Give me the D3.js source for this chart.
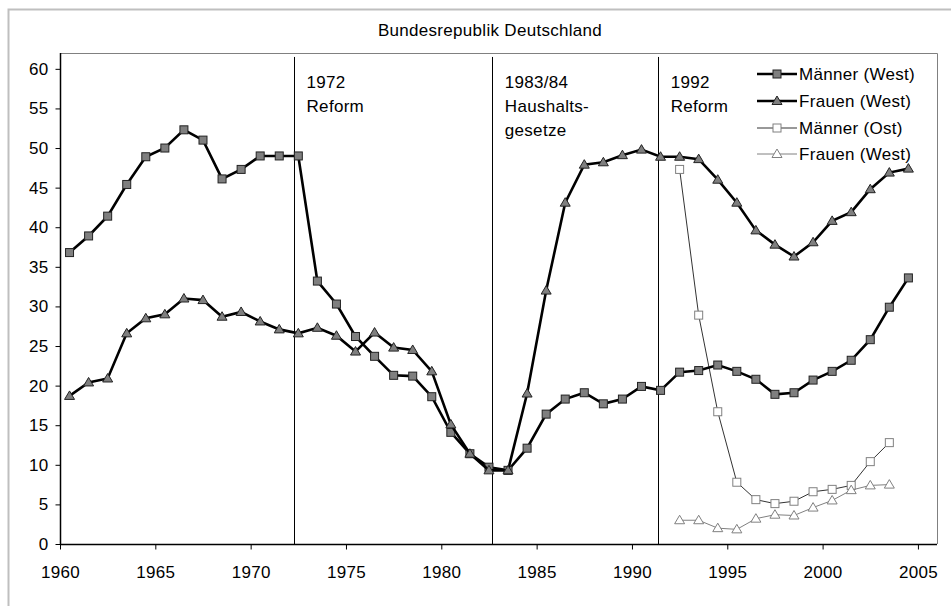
<!DOCTYPE html>
<html><head><meta charset="utf-8">
<script src="https://cdn.jsdelivr.net/npm/d3@7"></script>
<style>
body{margin:0;background:#fff;}
text{font-family:"Liberation Sans",Arial,sans-serif;fill:#000;letter-spacing:0.3px;}
</style></head>
<body><svg id="c" width="951" height="610"></svg>
<script>
const title = "Bundesrepublik Deutschland";
const yearsWest = d3.range(1960, 2005);
const maennerWest = [36.8,38.9,41.4,45.4,48.9,50.0,52.3,51.0,46.1,47.3,
  49.0,49.0,49.0,33.2,30.3,26.2,23.7,21.3,21.2,18.6,
  14.1,11.4,9.7,9.3,12.1,16.4,18.3,19.1,17.7,18.3,
  19.9,19.4,21.7,21.9,22.6,21.8,20.8,18.9,19.1,20.7,
  21.8,23.2,25.8,29.9,33.6];
const frauenWest = [18.7,20.4,20.9,26.6,28.5,29.0,31.0,30.8,28.7,29.3,
  28.1,27.1,26.6,27.3,26.3,24.3,26.7,24.8,24.5,21.8,
  15.1,11.4,9.3,9.3,19.0,32.0,43.1,47.9,48.2,49.1,
  49.8,48.9,48.9,48.6,46.0,43.1,39.6,37.8,36.3,38.1,
  40.8,41.9,44.8,46.9,47.4];
const yearsOst = d3.range(1992, 2004);
const maennerOst = [47.3,28.9,16.7,7.8,5.6,5.1,5.4,6.6,6.9,7.4,10.4,12.8];
const frauenOst = [3.0,3.0,2.0,1.85,3.2,3.7,3.6,4.6,5.5,6.8,7.4,7.5];
const seriesNames = ["Männer (West)","Frauen (West)","Männer (Ost)","Frauen (West)"];
const xTicks = d3.range(1960, 2006, 5);
const yTicks = d3.range(0, 61, 5);
const reforms = [
  {x:1972.25, lines:["1972","Reform"]},
  {x:1982.65, lines:["1983/84","Haushalts-","gesetze"]},
  {x:1991.35, lines:["1992","Reform"]}
];
const reformLineTop = 61.5;

const svg = d3.select("#c");
const L=60, T=53, R=937, B=544;
const x = d3.scaleLinear().domain([1960,2006]).range([L,R]);
const y = d3.scaleLinear().domain([0,62]).range([B,T]);
const FS = 17;

// outer frame
svg.append("path").attr("d","M8.5,606 L8.5,9.5 L951,9.5").attr("fill","none")
  .attr("stroke","#bfbfbf").attr("stroke-width",2);

svg.append("text").attr("x",490).attr("y",36).attr("text-anchor","middle")
  .style("font-size",FS+"px").text(title);

// plot border top/right
svg.append("path").attr("d",`M${L},${T+0.5} H${R+0.5} V${B}`).attr("fill","none")
  .attr("stroke","#808080").attr("stroke-width",1);

// axes
const yAxis = d3.axisLeft(y).tickValues(yTicks).tickSize(5).tickPadding(7).tickFormat(d3.format("d"));
const gy = svg.append("g").attr("transform",`translate(${L+0.5},0)`).call(yAxis);
const xAxis = d3.axisBottom(x).tickValues(xTicks).tickSize(5).tickPadding(16).tickFormat(d3.format("d"));
const gx = svg.append("g").attr("transform",`translate(0,${B+0.5})`).call(xAxis);
[gx,gy].forEach(g=>{
  g.selectAll("text").style("font-size",FS+"px").style("font-family","'Liberation Sans',Arial,sans-serif")
    .style("letter-spacing","0.3px").attr("fill","#000");
  g.select(".domain").attr("stroke","#000").attr("stroke-width",1.5);
  g.selectAll(".tick line").attr("stroke","#000");
});
gy.select(".domain").attr("d",`M0,${T} V${B}`);
gx.select(".domain").attr("d",`M${L},0 H${R}`);

// reform lines
reforms.forEach(r=>{
  svg.append("line").attr("x1",Math.round(x(r.x))+0.5).attr("x2",Math.round(x(r.x))+0.5)
    .attr("y1",y(reformLineTop)).attr("y2",B).attr("stroke","#000").attr("stroke-width",1);
  r.lines.forEach((t,i)=>{
    svg.append("text").attr("x",x(r.x)+13).attr("y",88+i*24).style("font-size",FS+"px").text(t);
  });
});

const line = d3.line().x(d=>x(d[0]+0.5)).y(d=>y(d[1]));
const mw = yearsWest.map((yr,i)=>[yr,maennerWest[i]]);
const fw = yearsWest.map((yr,i)=>[yr,frauenWest[i]]);
const mo = yearsOst.map((yr,i)=>[yr,maennerOst[i]]);
const fo = yearsOst.map((yr,i)=>[yr,frauenOst[i]]);

const styles = [
  {data:mw, lw:2.6, lc:"#000", shape:"sq", fill:"#7f7f7f", stroke:"#222"},
  {data:fw, lw:2.6, lc:"#000", shape:"tri", fill:"#7f7f7f", stroke:"#222"},
  {data:mo, lw:1, lc:"#333", shape:"sq", fill:"#fff", stroke:"#808080"},
  {data:fo, lw:1, lc:"#808080", shape:"tri", fill:"#fff", stroke:"#808080"}
];
function marker(g, shape, cx, cy, s){
  if(shape==="sq"){
    g.append("rect").attr("x",cx-4).attr("y",cy-4).attr("width",8).attr("height",8)
      .attr("fill",s.fill).attr("stroke",s.stroke).attr("stroke-width",1);
  } else {
    g.append("path").attr("d",`M${cx},${cy-5} L${cx+5},${cy+3.5} L${cx-5},${cy+3.5} Z`)
      .attr("fill",s.fill).attr("stroke",s.stroke).attr("stroke-width",1);
  }
}
// draw Ost first, then West
[2,3,0,1].forEach(k=>{
  const s = styles[k];
  const g = svg.append("g");
  g.append("path").attr("d",line(s.data)).attr("fill","none").attr("stroke",s.lc).attr("stroke-width",s.lw);
  s.data.forEach(d=>marker(g,s.shape,x(d[0]+0.5),y(d[1]),s));
});

// legend
const legY = [74,101,128,154];
seriesNames.forEach((n,i)=>{
  const s = styles[i];
  const g = svg.append("g");
  g.append("line").attr("x1",757).attr("x2",797).attr("y1",legY[i]).attr("y2",legY[i])
    .attr("stroke",s.lc).attr("stroke-width",s.lw);
  marker(g,s.shape,777,legY[i],s);
  g.append("text").attr("x",799).attr("y",legY[i]+6).style("font-size",FS+"px").text(n);
});
</script></body></html>
